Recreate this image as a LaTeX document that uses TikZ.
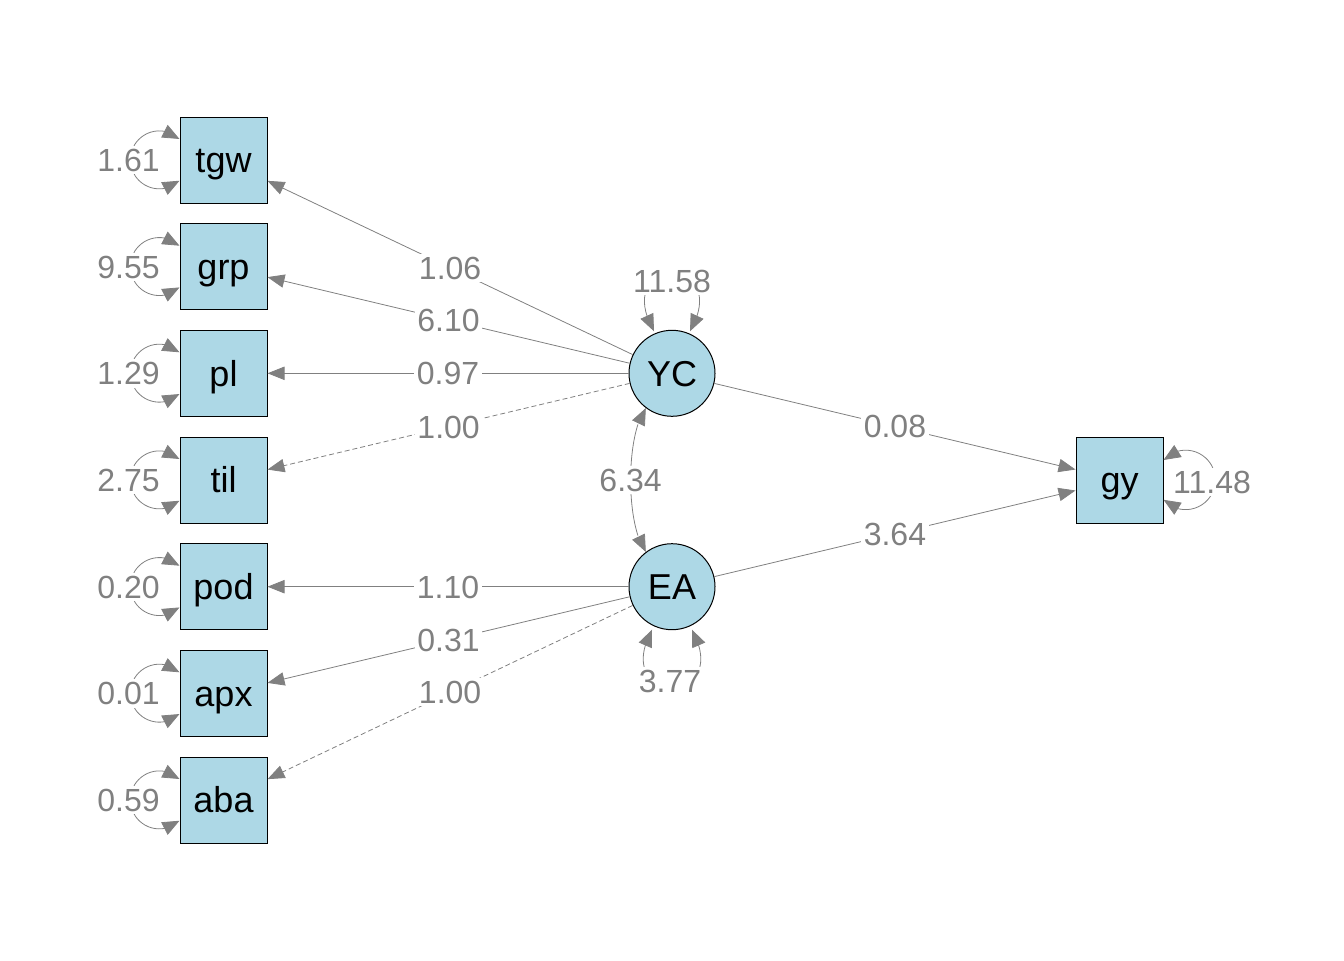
\documentclass[tikz,border=0pt]{standalone}
\usepackage{fontspec}
\setmainfont{Liberation Sans}
\usetikzlibrary{arrows.meta,bending}
\definecolor{nodeblue}{RGB}{173,216,230}
\definecolor{edgegray}{RGB}{128,128,128}
\definecolor{labelgray}{RGB}{128,128,128}
\tikzset{
  obs/.style={draw=black, line width=0.75pt, fill=nodeblue, minimum width=65.25pt, minimum height=64.5pt, inner sep=0pt, text height=19.4pt, text depth=0pt, font=\fontsize{27}{30}\selectfont},
  lat/.style={circle, draw=black, line width=0.75pt, fill=nodeblue, minimum size=64.5pt, inner sep=0pt, text height=19.4pt, text depth=0pt, font=\fontsize{27}{30}\selectfont},
  lbl/.style={fill=white, text=labelgray, inner sep=2pt, text height=17.3pt, text depth=0pt, font=\fontsize{24}{28}\selectfont},
  reg/.style={draw=edgegray, line width=0.6pt, -{Triangle[length=12.75pt,width=10pt]}},
  fixedpath/.style={reg, dash pattern=on 3.75pt off 2.25pt},
  cov/.style={draw=edgegray, line width=0.6pt, {Triangle[length=12.75pt,width=10.5pt]}-{Triangle[length=12.75pt,width=10.5pt]}}
}
\begin{document}
\begin{tikzpicture}[x=0.75pt, y=0.75pt]
\useasboundingbox (0,0) rectangle (1344,-960);
% observed indicators
\node[obs] (tgw) at (223.5,-160) {tgw};
\node[obs] (grp) at (223.5,-266.7) {grp};
\node[obs] (pl)  at (223.5,-373.3) {pl};
\node[obs] (til) at (223.5,-480) {til};
\node[obs] (pod) at (223.5,-586.7) {pod};
\node[obs] (apx) at (223.5,-693.3) {apx};
\node[obs] (aba) at (223.5,-800) {aba};
\node[obs] (gy)  at (1119.5,-480) {gy};
% latent
\node[lat] (YC) at (672,-373.3) {YC};
\node[lat] (EA) at (672,-586.7) {EA};
% loadings
\draw[reg] (YC) -- node[lbl] (e1) {1.06} (tgw);
\draw[reg] (YC) -- node[lbl] (e2) {6.10} (grp);
\draw[reg] (YC) -- node[lbl] (e3) {0.97} (pl);
\draw[fixedpath] (YC) -- node[lbl] (e4) {1.00} (til);
\draw[reg] (EA) -- node[lbl] (e5) {1.10} (pod);
\draw[reg] (EA) -- node[lbl] (e6) {0.31} (apx);
\draw[fixedpath] (EA) -- node[lbl] (e7) {1.00} (aba);
% regressions
\draw[reg] (YC) -- node[lbl] (e8) {0.08} (gy);
\draw[reg] (EA) -- node[lbl] (e9) {3.64} (gy);
% covariance
\draw[cov] (YC) to[out=-127,in=127,looseness=0.6] node[lbl] (e10) {6.34} (EA);
% residual variances of indicators
\foreach \n/\v in {tgw/1.61, grp/9.55, pl/1.29, til/2.75, pod/0.20, apx/0.01, aba/0.59}{
  \draw[cov] ([yshift=15.75pt]\n.west) arc[start angle=46, end angle=314, radius=21.75pt];
  \node[lbl] (v\n) at ([xshift=-38.25pt]\n.west) {\v};
}
% gy residual
\draw[cov] ([yshift=15pt]gy.east) arc[start angle=138, end angle=-138, radius=22.3pt];
\node[lbl] (vgy) at (1212,-482) {11.48};
% latent variances
\draw[cov] ([shift={(-13.5pt,31.5pt)}]YC.center) .. controls ([shift={(-46.5pt,89.25pt)}]YC.center) and ([shift={(46.5pt,89.25pt)}]YC.center) .. ([shift={(13.5pt,31.5pt)}]YC.center);
\node[lbl] (vYC) at (672,-281) {11.58};
\draw[cov] ([shift={(-15pt,-32.25pt)}]EA.center) .. controls ([shift={(-46.5pt,-90pt)}]EA.center) and ([shift={(46.5pt,-90pt)}]EA.center) .. ([shift={(15pt,-32.25pt)}]EA.center);
\node[lbl] (vEA) at (670,-681) {3.77};
\end{tikzpicture}
\end{document}
